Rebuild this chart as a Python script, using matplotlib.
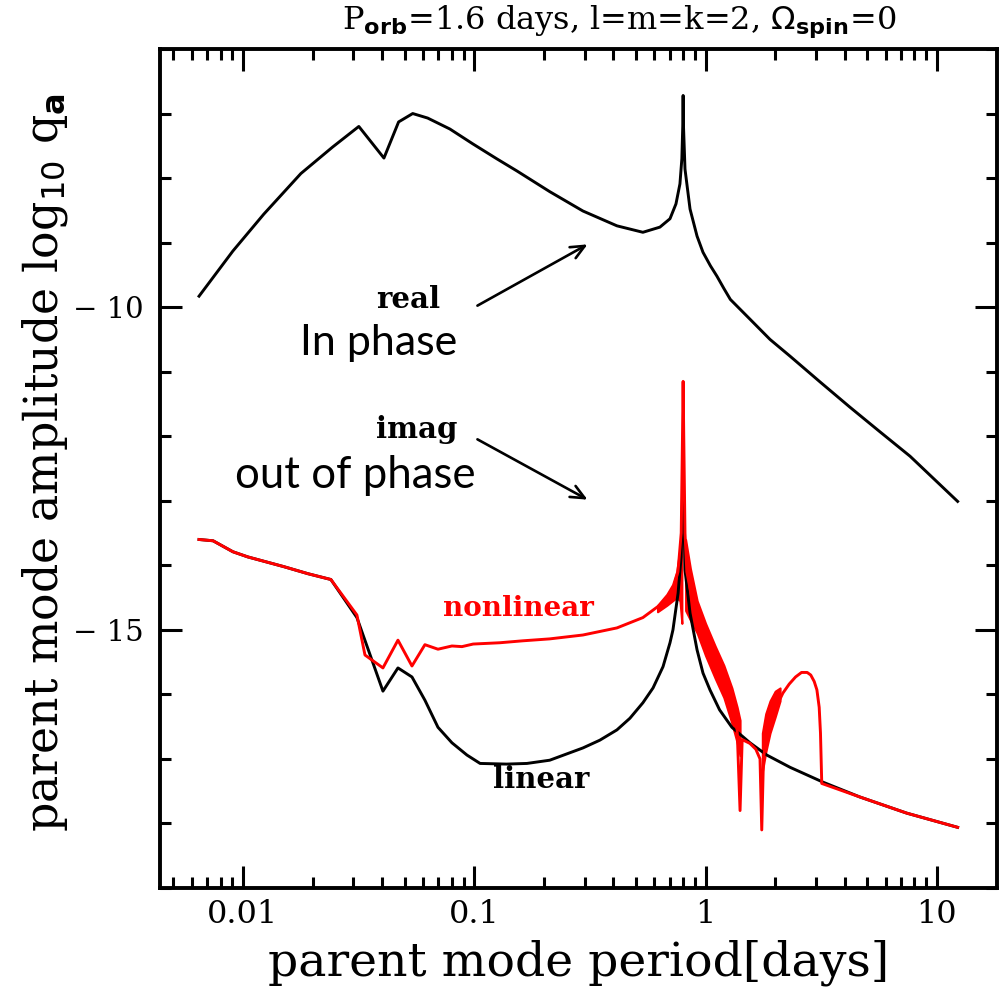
import matplotlib
matplotlib.use("Agg")
import matplotlib.pyplot as plt
from matplotlib.ticker import FixedLocator, LogLocator, FuncFormatter, MultipleLocator, NullFormatter

# real part (in phase) of the parent mode amplitude
real_period = [0.00646, 0.00905, 0.0123, 0.0178, 0.0244, 0.0317, 0.0407, 0.0471, 0.0542, 0.0629,
               0.0785, 0.0986, 0.125, 0.153, 0.212, 0.295, 0.414, 0.536, 0.635, 0.702, 0.745,
               0.775, 0.790, 0.797, 0.800, 0.803, 0.815, 0.857, 0.919, 0.975, 1.05, 1.12, 1.20,
               1.28, 1.56, 1.90, 2.32, 3.13, 4.21, 5.67, 7.66, 12.3]
real_amp = [-9.83, -9.13, -8.56, -7.93, -7.52, -7.20, -7.69, -7.13, -7.00, -7.07,
            -7.24, -7.47, -7.70, -7.89, -8.21, -8.51, -8.74, -8.84, -8.76, -8.63, -8.40,
            -8.09, -7.70, -7.20, -6.72, -7.20, -7.86, -8.48, -8.90, -9.15, -9.36, -9.52, -9.71,
            -9.88, -10.19, -10.50, -10.76, -11.16, -11.55, -11.93, -12.31, -13.01]

# imaginary part (out of phase), linear calculation
lin_period = [0.00646, 0.00743, 0.00905, 0.0105, 0.0150, 0.0191, 0.0240, 0.0311, 0.0403, 0.0468,
              0.0538, 0.0612, 0.0697, 0.0801, 0.093, 0.106, 0.138, 0.169, 0.212, 0.295, 0.349,
              0.414, 0.471, 0.536, 0.593, 0.655, 0.702, 0.723, 0.761, 0.784, 0.800, 0.815, 0.857,
              0.919, 0.975, 1.045, 1.15, 1.30, 1.556, 1.84, 2.32, 3.22, 4.65, 7.41, 12.3]
lin_amp = [-13.60, -13.62, -13.79, -13.87, -14.02, -14.13, -14.22, -14.81, -15.95, -15.59,
           -15.73, -16.09, -16.51, -16.75, -16.94, -17.07, -17.08, -17.07, -17.02, -16.83, -16.71,
           -16.55, -16.37, -16.13, -15.90, -15.57, -15.20, -15.00, -14.43, -13.87, -12.50, -14.07, -14.74,
           -15.31, -15.67, -15.93, -16.24, -16.51, -16.75, -16.94, -17.13, -17.36, -17.59, -17.84, -18.06]

# imaginary part, nonlinear calculation
nl_period = [0.00646, 0.00743, 0.00905, 0.0105, 0.0150, 0.0191, 0.0240, 0.0311, 0.0337, 0.0403,
             0.0468, 0.0538, 0.0612, 0.0697, 0.0801, 0.0885, 0.0989, 0.129, 0.162, 0.212, 0.295,
             0.414, 0.536, 0.655, 0.723, 0.76, 0.785, 0.795, 0.800, 0.805, 0.815, 0.83, 0.90,
             1.0, 1.1, 1.2, 1.3, 1.37, 1.41, 1.44, 1.556, 1.65, 1.72, 1.75, 1.78, 1.84, 1.95,
             2.05, 2.16, 2.3, 2.45, 2.6, 2.75, 2.85, 2.95, 3.03, 3.10, 3.14, 3.18, 4.65, 7.41, 12.3]
nl_amp = [-13.60, -13.62, -13.79, -13.87, -14.02, -14.13, -14.22, -14.77, -15.39, -15.59,
          -15.16, -15.56, -15.23, -15.30, -15.25, -15.26, -15.22, -15.20, -15.17, -15.14, -15.08,
          -14.97, -14.81, -14.58, -14.38, -14.1, -13.5, -12.0, -11.15, -12.0, -13.5, -14.1, -14.75,
          -15.15, -15.5, -15.8, -16.17, -16.55, -17.8, -16.7, -16.76, -16.85, -17.0, -18.1, -17.0,
          -16.6, -16.35, -16.15, -15.98, -15.84, -15.73, -15.66, -15.66, -15.70, -15.80, -15.93,
          -16.2, -16.6, -17.38, -17.59, -17.84, -18.06]

# envelope of the fast oscillation just above resonance
band_period = [0.82, 0.86, 0.92, 1.0, 1.1, 1.2, 1.3, 1.37, 1.41]
band_upper = [-13.6, -14.05, -14.55, -14.9, -15.25, -15.55, -15.9, -16.2, -16.4]
band_lower = [-14.7, -14.85, -15.05, -15.4, -15.75, -16.05, -16.45, -16.75, -16.95]

# envelope of the oscillation just below resonance
band2_period = [0.62, 0.68, 0.72, 0.75, 0.775, 0.79]
band2_upper = [-14.62, -14.45, -14.3, -14.1, -13.75, -13.3]
band2_lower = [-14.72, -14.62, -14.55, -14.5, -14.55, -14.9]

# envelope on the rising side of the second dip
band3_period = [1.76, 1.82, 1.9, 2.0, 2.1]
band3_upper = [-16.6, -16.3, -16.1, -15.95, -15.9]
band3_lower = [-17.2, -16.9, -16.6, -16.35, -16.1]

W, H = 1004, 990
fig = plt.figure(figsize=(W / 100, H / 100), dpi=100)
ax = fig.add_axes([160 / W, 1 - 888 / H, (997 - 160) / W, (888 - 49) / H])

lw = 2.1
ax.plot(real_period, real_amp, color="black", lw=lw)
ax.plot(lin_period, lin_amp, color="black", lw=lw)
for bp, bl, bu in [(band_period, band_lower, band_upper),
                   (band2_period, band2_lower, band2_upper),
                   (band3_period, band3_lower, band3_upper)]:
    ax.fill_between(bp, bl, bu, color="red", lw=1.5)
ax.plot(nl_period, nl_amp, color="red", lw=lw)

ax.set_xscale("log")
ax.set_xlim(0.00438, 18.2)
ax.set_ylim(-19, -6)

ax.xaxis.set_major_locator(FixedLocator([0.01, 0.1, 1, 10]))
ax.xaxis.set_major_formatter(FuncFormatter(lambda v, p: {0.01: "0.01", 0.1: "0.1", 1: "1", 10: "10"}.get(round(v, 3), "")))
ax.xaxis.set_minor_locator(LogLocator(base=10, subs=range(2, 10)))
ax.xaxis.set_minor_formatter(NullFormatter())
ax.yaxis.set_major_locator(MultipleLocator(5))
ax.yaxis.set_minor_locator(MultipleLocator(1))
ax.yaxis.set_major_formatter(FuncFormatter(lambda v, p: "\u2212 %d" % abs(v) if v < 0 else "%d" % v))

for s in ax.spines.values():
    s.set_linewidth(2.8)
ax.tick_params(which="both", direction="in", top=True, right=True, width=2.2)
ax.tick_params(which="major", length=16, pad=12)
ax.tick_params(which="minor", length=8)
ax.tick_params(axis="x", labelsize=23, pad=8)
ax.tick_params(axis="y", labelsize=21)
for lab in ax.get_xticklabels() + ax.get_yticklabels():
    lab.set_family("DejaVu Serif")

fig.text(619 / W, 1 - 22 / H, r"P$_{\mathbf{orb}}$=1.6 days, l=m=k=2, $\Omega_{\mathbf{spin}}$=0",
         ha="center", va="center", fontsize=23, family="DejaVu Serif")
fig.text(579 / W, 1 - 976 / H, "parent mode period[days]", ha="center", va="baseline",
         fontsize=34, family="DejaVu Serif")
fig.text(45 / W, 1 - 463 / H, r"parent mode amplitude log$_{10}$ q$_{\mathbf{a}}$", ha="center", va="center",
         rotation=90, fontsize=33, family="DejaVu Serif")

fig.text(408 / W, 1 - 299 / H, "real", ha="center", va="center", fontsize=21,
         family="DejaVu Serif", weight="bold")
fig.text(379 / W, 1 - 343 / H, "In phase", ha="center", va="center", fontsize=31, family="Lato")
fig.text(417 / W, 1 - 430 / H, "imag", ha="center", va="center", fontsize=21,
         family="DejaVu Serif", weight="bold")
fig.text(355 / W, 1 - 475 / H, "out of phase", ha="center", va="center", fontsize=31.5, family="Lato")
fig.text(518 / W, 1 - 608 / H, "nonlinear", ha="center", va="center", fontsize=20,
         family="DejaVu Serif", weight="bold", color="red")
fig.text(541 / W, 1 - 780 / H, "linear", ha="center", va="center", fontsize=21,
         family="DejaVu Serif", weight="bold")

arrow = dict(arrowstyle="->,head_length=1.0,head_width=0.45", color="black", lw=1.9)
ax.annotate("", xy=(590 / W, 1 - 243 / H), xytext=(475 / W, 1 - 307 / H),
            xycoords="figure fraction", textcoords="figure fraction", arrowprops=arrow)
ax.annotate("", xy=(590 / W, 1 - 501 / H), xytext=(475 / W, 1 - 438 / H),
            xycoords="figure fraction", textcoords="figure fraction", arrowprops=arrow)

fig.savefig("out.png", dpi=100)
